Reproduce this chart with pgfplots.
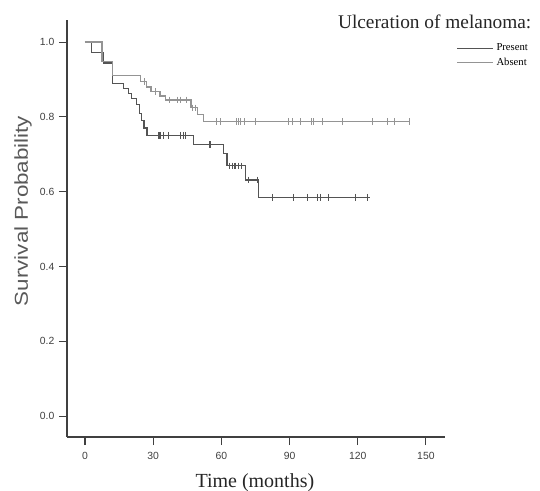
\documentclass[border=0pt]{standalone}
\usepackage{fontspec}
\setmainfont{Liberation Serif}
\newfontfamily\arialfont{Liberation Sans}
\usepackage{pgfplots}
\pgfplotsset{compat=1.18}
\definecolor{presentc}{gray}{0.33}
\definecolor{absentc}{gray}{0.58}
\definecolor{axc}{gray}{0.25}
\begin{document}
\begin{tikzpicture}[x=1pt,y=1pt]
\path[use as bounding box] (0,0) rectangle (405,367.5);
\begin{axis}[
  at={(50.25pt,39.75pt)}, anchor=south west,
  scale only axis, width=283.5pt, height=312.75pt,
  xmin=-7.92, xmax=158.4, ymin=-0.056, ymax=1.059,
  axis x line=bottom, axis y line=left,
  axis line style={-, draw=axc, line width=1pt},
  xtick={0,30,60,90,120,150},
  ytick={0,0.2,0.4,0.6,0.8,1.0},
  tick align=outside, major tick length=6pt,
  tick style={draw=axc, line width=0.8pt},
  /pgf/number format/assume math mode=true,
  xticklabel style={font=\arialfont\fontsize{7.8}{8}\selectfont, text=black!75, yshift=-2pt},
  yticklabel style={font=\arialfont\fontsize{7.8}{8}\selectfont, text=black!75},
  yticklabel={\pgfmathprintnumber[fixed,fixed zerofill,precision=1]{\tick}},
  xlabel={Time (months)},
  xlabel style={at={(rel axis cs:0.497,-0.11)}, anchor=center, font=\fontsize{15}{18}\selectfont, text=black!85},
  ylabel={\scalebox{1.2}[1]{Survival Probability}},
  ylabel style={at={(rel axis cs:-0.116,0.542)}, anchor=center, rotate=0, font=\arialfont\fontsize{14}{16}\selectfont, text=black!65},
  legend style={at={(rel axis cs:1.03,0.95)}, anchor=north west, draw=none, fill=none,
    font=\fontsize{8}{9}\selectfont, row sep=0pt, inner sep=0pt, cells={anchor=west}},
  legend image code/.code={\draw[#1] (0cm,0cm) -- (0.95cm,0cm);},
]
\addplot[const plot, presentc, line width=0.9pt] coordinates {
(0,1.0) (3,0.972) (8,0.944) (12,0.889) (17,0.876) (19,0.863) (20.5,0.85) (22.5,0.832) (24,0.81) (25,0.79) (26,0.77) (27.3,0.751) (47.8,0.726) (61,0.703) (62.5,0.669) (70.6,0.631) (76.5,0.585) (125.5,0.585)};
\addlegendentry{Present}
\addplot[const plot, absentc, line width=0.9pt] coordinates {
(0,1.0) (7.5,0.947) (12,0.91) (24.3,0.894) (27,0.88) (29,0.867) (33,0.856) (35.3,0.845) (46.6,0.824) (49.5,0.806) (52,0.787) (143,0.787)};
\addlegendentry{Absent}
\addplot[only marks, mark=|, mark size=2.5pt, presentc, mark options={line width=0.8pt}, forget plot] coordinates {
(32.3,0.751)(33,0.751)(34.5,0.751)(36.7,0.751)(41.9,0.751)(43.4,0.751)(44.1,0.751)(55,0.726)(63.5,0.669)(65,0.669)(66,0.669)(67.5,0.669)(69,0.669)(72,0.631)(75.7,0.631)(82.3,0.585)(91.9,0.585)(97.8,0.585)(102.5,0.585)(103.5,0.585)(107.2,0.585)(119,0.585)(124.3,0.585)};
\addplot[only marks, mark=|, mark size=2.5pt, absentc, mark options={line width=0.8pt}, forget plot] coordinates {
(26,0.894)(31,0.867)(37,0.845)(40.5,0.845)(42,0.845)(44.7,0.845)(47.5,0.824)(48.8,0.824)(58,0.787)(59.5,0.787)(66.5,0.787)(67.5,0.787)(68.5,0.787)(70,0.787)(75,0.787)(89.7,0.787)(91.2,0.787)(94.8,0.787)(99.5,0.787)(100.5,0.787)(104.4,0.787)(113.2,0.787)(126.5,0.787)(133,0.787)(136,0.787)(142.6,0.787)};
\end{axis}
\node[anchor=west, font=\fontsize{14.5}{18}\selectfont, text=black!85] at (250,351) {Ulceration of melanoma:};
\end{tikzpicture}
\end{document}
